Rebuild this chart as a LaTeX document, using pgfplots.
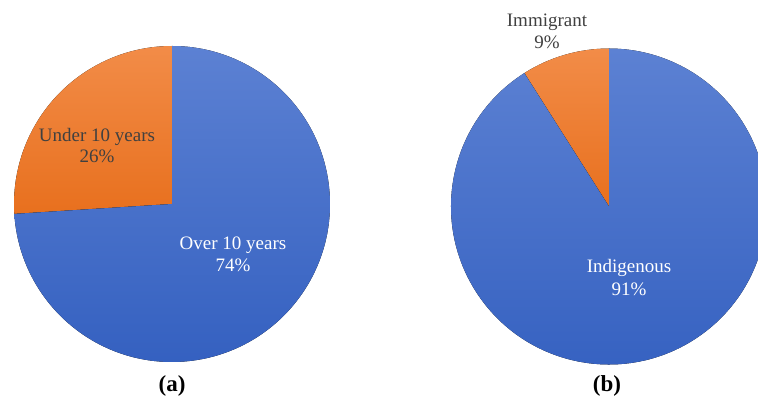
\documentclass[border=0pt]{standalone}
\usepackage{pgfplots}
\pgfplotsset{compat=1.18}
\usepackage{fontspec}
\setmainfont{Liberation Serif}
\definecolor{blueT}{HTML}{5C81D3}
\definecolor{blueB}{HTML}{3460C0}
\definecolor{orT}{HTML}{F28C48}
\definecolor{orB}{HTML}{E8701E}
\definecolor{darktxt}{HTML}{404040}
\begin{document}
\begin{tikzpicture}
\begin{axis}[width=758pt,height=399pt,scale only axis,
  xmin=0,xmax=758,ymin=0,ymax=399,hide axis,clip=true]
\addplot[draw=none] coordinates {(0,0) (758,399)};
% ---- pie (a): Under 10 years 26, Over 10 years 74
\pgfmathsetmacro\aA{90+3.6*26}
\fill[top color=orT,bottom color=orB] (axis cs:172,195) -- ++(90:158) arc[start angle=90,end angle=\aA,radius=158] -- cycle;
\fill[top color=blueT,bottom color=blueB] (axis cs:172,195) -- ++(\aA:158) arc[start angle=\aA,end angle=450,radius=158] -- cycle;
% ---- pie (b): Immigrant 9, Indigenous 91
\pgfmathsetmacro\aB{90+3.6*9}
\fill[top color=orT,bottom color=orB] (axis cs:609,192.5) -- ++(90:158) arc[start angle=90,end angle=\aB,radius=158] -- cycle;
\fill[top color=blueT,bottom color=blueB] (axis cs:609,192.5) -- ++(\aB:158) arc[start angle=\aB,end angle=450,radius=158] -- cycle;
% labels
\node[anchor=base,text=darktxt,font=\fontsize{19}{22}\selectfont] at (axis cs:97,257.3) {Under 10 years};
\node[anchor=base,text=darktxt,font=\fontsize{19}{22}\selectfont] at (axis cs:97,236) {26\%};
\node[anchor=base,text=white,font=\fontsize{19}{22}\selectfont] at (axis cs:233,149) {Over 10 years};
\node[anchor=base,text=white,font=\fontsize{19}{22}\selectfont] at (axis cs:233,127) {74\%};
\node[anchor=base,text=darktxt,font=\fontsize{19}{22}\selectfont] at (axis cs:547,372) {Immigrant};
\node[anchor=base,text=darktxt,font=\fontsize{19}{22}\selectfont] at (axis cs:547,350) {9\%};
\node[anchor=base,text=white,font=\fontsize{19}{22}\selectfont] at (axis cs:629,126) {Indigenous};
\node[anchor=base,text=white,font=\fontsize{19}{22}\selectfont] at (axis cs:629,103) {91\%};
\node[anchor=base,text=black,font=\fontsize{23}{26}\selectfont\bfseries] at (axis cs:172,7) {(a)};
\node[anchor=base,text=black,font=\fontsize{23}{26}\selectfont\bfseries] at (axis cs:607,7) {(b)};
\end{axis}
\pgfresetboundingbox
\path[use as bounding box] (current axis.south west) rectangle (current axis.north east);
\end{tikzpicture}
\end{document}
